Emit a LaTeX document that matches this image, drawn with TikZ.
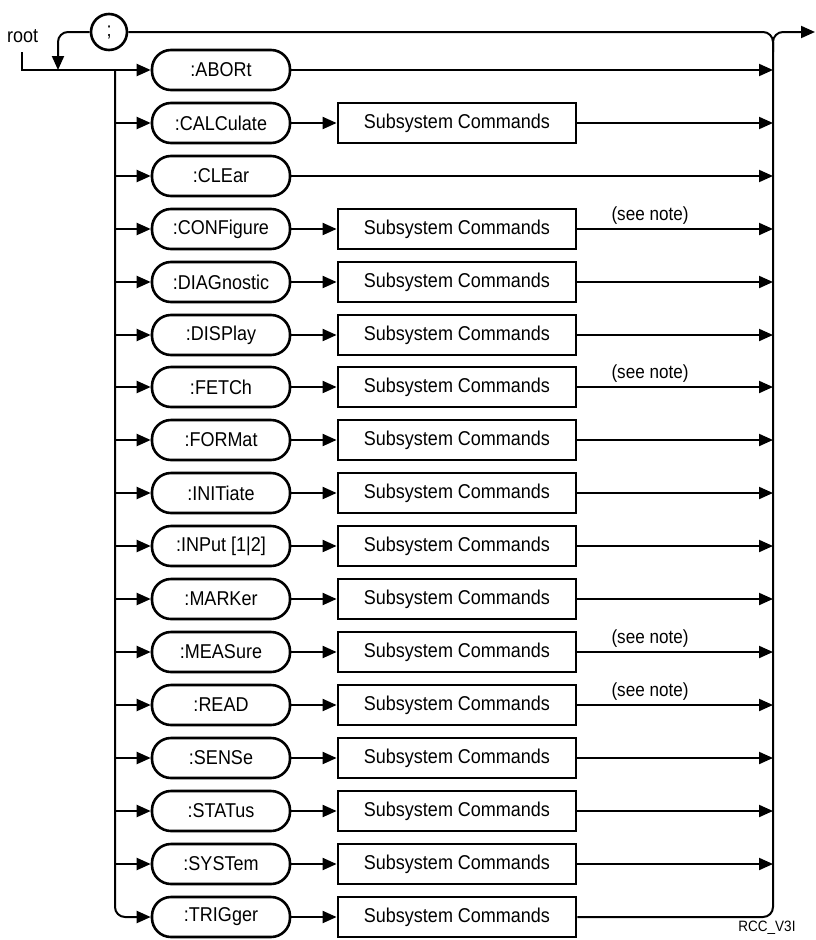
\documentclass[tikz,border=0pt]{standalone}
\usepackage{fontspec}
\setmainfont[FakeStretch=0.9]{Liberation Sans}
\usetikzlibrary{arrows.meta}
\begin{document}
\begin{tikzpicture}[x=1pt,y=-1pt,
  lbl/.style={font=\fontsize{20}{24}\selectfont},
  cmd/.style={lbl, draw, line width=2.6pt, rounded corners=19pt, minimum width=138pt, minimum height=40pt, inner sep=0pt},
  sub/.style={lbl, draw, line width=2.8pt, minimum width=238pt, minimum height=40pt, inner sep=0pt},
  conn/.style={line width=2pt},
  arr/.style={conn, -{Triangle[length=14pt,width=12pt]}},
  note/.style={font=\fontsize{19}{22}\selectfont, anchor=south, inner sep=1pt}
]
\useasboundingbox (0,0) rectangle (815,940);

% command rows
\foreach \i/\t/\y in {0/{:ABORt}/70, 1/{:CALCulate}/123, 2/{:CLEar}/176, 3/{:CONFigure}/229,
  4/{:DIAGnostic}/282, 5/{:DISPlay}/335, 6/{:FETCh}/387, 7/{:FORMat}/440,
  8/{:INITiate}/493, 9/{:INPut [1|2]}/546, 10/{:MARKer}/599, 11/{:MEASure}/652,
  12/{:READ}/705, 13/{:SENSe}/758, 14/{:STATus}/811, 15/{:SYSTem}/864, 16/{:TRIGger}/917}
{
  \node[cmd] (c\i) at (221,\y) {\t};
  \coordinate (b\i) at (115,\y);
  \coordinate (r\i) at (773,\y);
}
\foreach \i/\y in {1/123, 3/229, 4/282, 5/335, 6/387, 7/440, 8/493, 9/546, 10/599,
  11/652, 12/705, 13/758, 14/811, 15/864, 16/917}
{
  \node[sub] (s\i) at (457,\y) {Subsystem Commands};
}

% semicolon circle and root
\node[circle, draw, line width=2.6pt, minimum size=36pt, inner sep=0pt, lbl] (semi) at (109,32) {;};
\node[lbl, anchor=base west, inner sep=0pt] (root) at (7,42) {root};
\coordinate (rootTop) at (22,52);
\coordinate (loopL) at (58,32);
\coordinate (loopEnd) at (58,70);
\coordinate (rtop) at (773,32);
\coordinate (rsplit) at (773,52);
\coordinate (out) at (815,32);

% root line into ABORt
\draw[arr] (rootTop) |- (c0.west);
% loop back from semicolon
\draw[arr, rounded corners=10pt] (semi.west) -- (loopL) -- (loopEnd);
% left bus
\draw[arr, rounded corners=10pt] (b0) |- (c16.west);
\foreach \i in {1,...,15} { \draw[arr] (b\i) -- (c\i.west); }
% command to subsystem
\foreach \i in {1,3,4,5,6,7,8,9,10,11,12,13,14,15,16} { \draw[arr] (c\i) -- (s\i); }
% to right bus
\foreach \i in {0,2} { \draw[arr] (c\i) -- (r\i); }
\foreach \i in {1,3,4,5,6,7,8,9,10,11,12,13,14,15} { \draw[arr] (s\i) -- (r\i); }
% right bus
\draw[conn, rounded corners=10pt] (semi.east) -- (rtop) -- (r16) -- (s16.east);
\draw[arr, rounded corners=10pt] (rsplit) -- (rtop) -- (out);

% notes
\node[note] (n3) at (650,226) {(see note)};
\node[note] (n6) at (650,384) {(see note)};
\node[note] (n11) at (650,649) {(see note)};
\node[note] (n12) at (650,702) {(see note)};
\node[font=\fontsize{15}{18}\selectfont, anchor=base, inner sep=0pt] (rcc) at (767,931) {RCC\_V3I};
\end{tikzpicture}
\end{document}
